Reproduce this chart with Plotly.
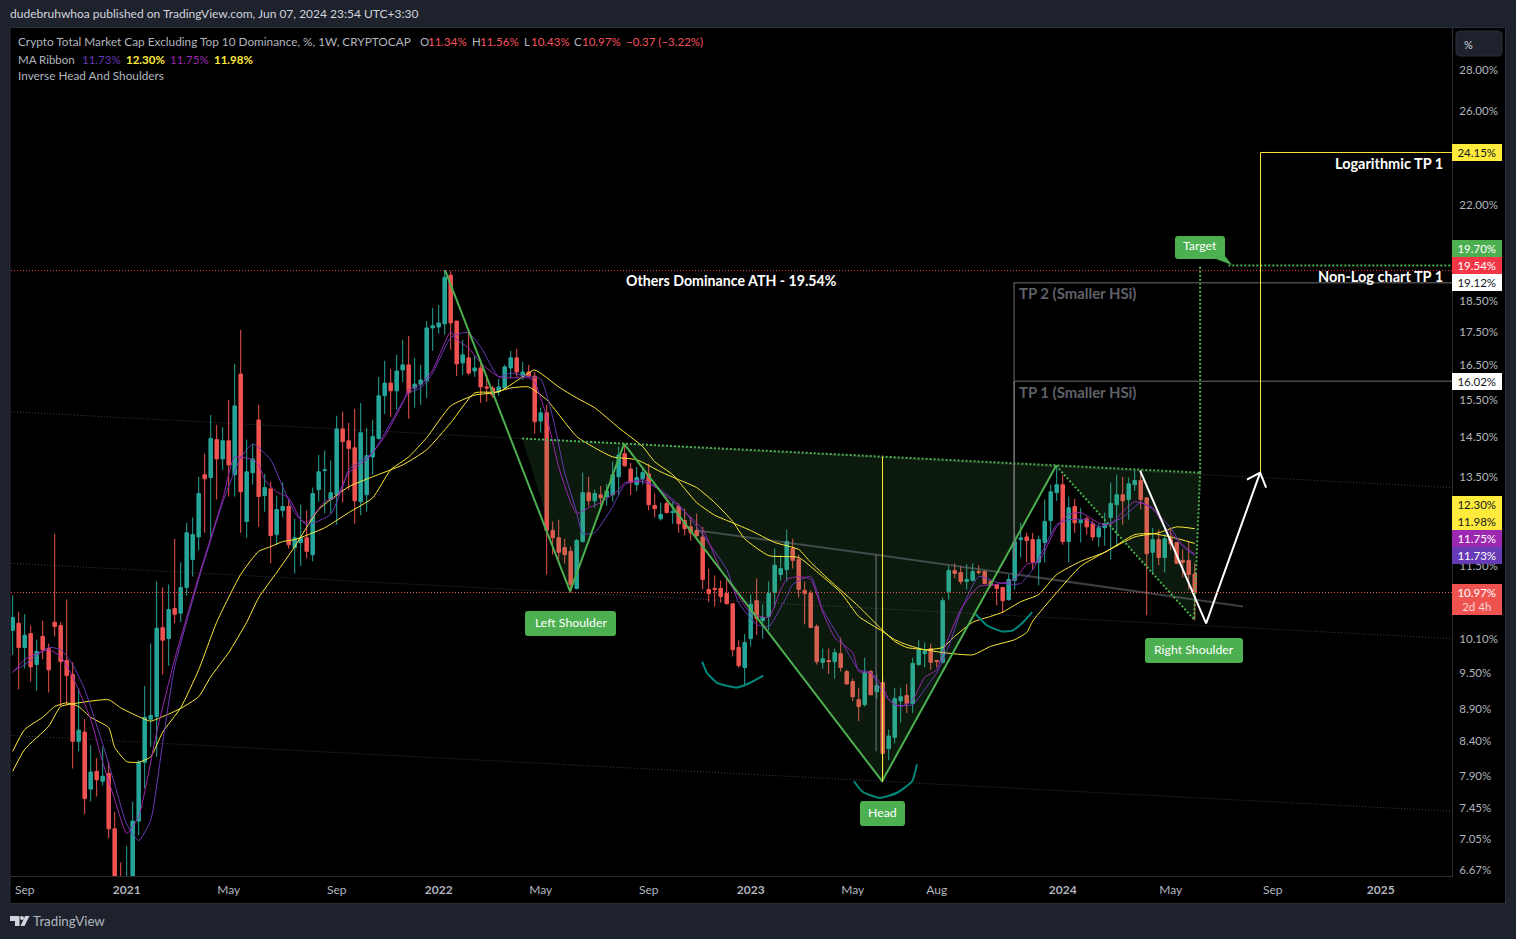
import math
import pandas as pd
import plotly.graph_objects as go

# ---------- candle data (weekly, %) ----------
first_week = "2020-08-24"
opens = [
 10.25,10.38,9.94,10.19,9.64,10.14,9.92,10.40,10.34,9.71,
 9.47,8.40,8.54,7.71,7.96,7.82,7.93,7.18,6.25,6.10,
 6.35,7.28,8.09,8.74,8.78,10.30,10.10,10.66,10.57,11.07,
 11.64,12.12,13.55,13.48,14.43,13.94,14.40,13.55,16.23,12.46,
 13.60,14.95,13.05,13.21,12.17,12.71,12.80,11.89,12.00,12.10,
 11.74,13.19,13.65,12.96,13.07,14.71,14.40,14.22,12.91,13.07,
 13.99,14.46,15.61,15.97,15.75,16.35,16.50,15.83,15.94,16.03,
 17.63,17.66,17.76,19.38,17.85,16.56,16.71,16.32,16.41,15.86,
 15.83,15.72,15.83,16.41,16.71,16.17,16.29,16.17,14.92,15.14,
 12.26,12.10,11.89,11.81,11.05,12.02,13.12,12.93,13.07,13.03,
 13.07,13.50,14.07,13.69,13.31,13.45,13.57,12.82,12.52,12.87,
 12.66,12.80,12.48,12.34,12.26,12.12,11.03,11.05,11.05,10.95,
 10.75,9.94,9.59,10.10,10.81,10.43,10.51,10.97,11.33,11.43,
 11.87,11.64,11.01,10.95,10.32,9.68,9.71,9.69,9.83,9.52,
 9.35,9.05,8.97,9.52,9.18,9.33,8.29,8.46,9.03,9.12,
 8.99,9.64,9.83,9.92,9.71,9.68,10.99,11.41,11.37,11.19,
 11.21,11.39,11.39,11.19,11.13,11.07,10.83,11.21,12.06,12.12,
 12.06,11.58,12.00,12.48,13.12,13.31,12.02,12.80,12.43,12.52,
 12.41,12.12,12.32,12.55,12.84,13.07,12.96,13.31,13.41,13.00,
 11.79,12.06,11.68,12.08,12.00,11.62,11.62,11.34]
highs = [
 10.91,10.60,10.55,10.34,10.08,10.43,10.01,12.19,10.40,10.83,
 9.68,9.22,8.74,8.34,8.15,8.32,8.10,7.40,6.76,6.96,
 7.54,8.12,9.28,10.01,11.19,11.07,11.13,12.08,11.58,12.43,
 12.55,13.50,14.07,15.08,14.82,14.76,15.50,16.53,17.57,14.43,
 14.32,15.36,13.57,13.38,13.05,13.36,12.96,12.52,12.84,12.71,
 13.24,14.04,14.15,13.90,15.06,15.17,14.87,15.25,15.41,14.74,
 14.95,16.15,16.62,16.38,16.80,17.26,17.38,16.71,16.50,17.85,
 18.27,18.37,19.56,19.52,17.85,17.26,17.51,16.77,16.56,16.23,
 15.89,16.09,16.50,16.92,16.98,16.59,16.50,16.29,15.28,15.36,
 12.46,12.50,12.08,11.91,12.08,13.60,13.50,13.19,13.28,13.33,
 13.87,14.25,14.32,13.84,13.74,13.74,13.82,13.10,12.89,12.98,
 12.91,12.87,12.75,12.57,12.64,12.34,11.45,11.31,11.21,11.27,
 10.75,10.07,10.18,10.93,11.25,10.74,11.19,11.87,11.74,12.28,
 12.08,11.74,11.19,11.01,10.36,9.92,9.92,9.92,10.12,9.55,
 9.40,9.25,9.76,9.55,9.47,9.42,8.58,9.24,9.25,9.31,
 9.76,10.07,10.03,10.01,9.71,10.87,11.50,11.56,11.50,11.54,
 11.56,11.52,11.41,11.23,11.13,11.07,11.33,12.17,12.43,12.21,
 12.21,12.15,12.96,13.31,13.74,13.55,13.03,12.98,12.77,12.57,
 12.48,12.41,12.66,13.36,13.55,13.50,13.48,13.67,13.65,13.00,
 12.32,12.28,12.19,12.30,12.00,11.85,12.02,11.56]
lows = [
 9.81,9.22,9.57,9.35,9.20,9.73,9.17,10.14,8.95,8.97,
 8.00,8.25,7.37,7.54,7.61,7.76,7.06,6.05,5.95,5.95,
 6.20,7.10,7.72,8.32,8.17,9.47,9.62,10.38,10.40,10.91,
 11.29,11.83,12.21,12.12,12.96,13.67,13.03,13.03,12.21,12.10,
 13.31,12.34,12.68,11.56,11.95,12.55,11.87,11.35,11.50,11.66,
 11.60,12.91,12.64,12.64,12.39,12.89,13.19,12.41,12.60,12.68,
 13.55,14.43,15.11,15.03,15.22,16.00,14.98,15.28,15.36,15.55,
 16.92,17.45,17.42,16.95,16.17,16.20,16.20,16.15,15.41,15.44,
 15.55,15.61,15.80,16.12,16.15,16.06,16.15,14.58,14.61,11.33,
 11.74,11.56,11.56,10.97,11.03,12.00,12.80,12.77,12.73,12.82,
 12.91,13.07,13.74,13.07,13.16,13.31,12.71,12.55,12.48,12.64,
 12.41,12.21,12.15,12.04,12.06,11.03,10.79,10.70,10.77,10.74,
 9.78,9.59,9.27,9.96,10.16,10.10,10.25,10.68,11.21,11.19,
 11.45,10.87,10.36,10.30,9.64,9.57,9.48,9.40,9.52,9.30,
 9.03,8.71,8.94,9.13,9.07,7.81,8.12,8.37,8.69,8.84,
 8.84,9.62,9.59,9.55,9.59,9.66,10.83,11.25,11.13,11.03,
 11.19,11.33,11.13,11.07,10.72,10.57,10.81,11.03,11.68,11.58,
 11.43,11.11,11.58,12.17,12.93,11.95,11.58,12.21,12.00,12.17,
 12.04,11.91,11.93,11.64,11.91,12.39,12.50,13.16,12.73,10.53,
 11.33,11.52,11.37,11.83,11.54,11.27,11.03,10.43]
closes = [
 10.49,9.94,10.16,9.60,9.87,9.90,9.55,10.32,9.69,9.45,
 8.40,8.57,7.58,7.95,7.84,7.89,7.18,6.25,6.10,6.35,
 7.28,8.09,8.77,8.80,10.29,10.07,10.64,10.55,11.07,12.21,
 12.17,13.10,13.45,14.46,13.94,14.40,13.79,15.33,13.14,13.62,
 13.94,13.03,13.24,12.15,12.73,12.80,11.95,12.10,12.10,11.81,
 13.10,13.62,13.67,13.12,14.71,14.38,14.20,12.93,14.61,14.02,
 14.51,15.61,15.97,15.75,16.32,16.50,15.69,15.94,16.06,17.63,
 17.70,17.79,19.31,17.79,16.53,16.80,16.26,16.41,15.86,15.83,
 15.63,15.86,16.44,16.71,16.29,16.29,16.17,14.90,15.14,12.26,
 12.10,11.79,11.74,11.13,12.04,13.12,12.93,13.10,13.00,13.16,
 13.55,14.04,13.77,13.36,13.48,13.60,12.84,12.75,12.62,12.66,
 12.68,12.41,12.30,12.21,12.15,11.23,10.95,11.03,10.89,10.75,
 9.90,9.62,10.03,10.74,10.47,10.49,10.95,11.52,11.45,12.02,
 11.62,11.03,10.95,10.30,9.69,9.74,9.69,9.85,9.59,9.31,
 9.10,8.94,9.50,9.13,9.28,8.22,8.48,9.07,9.10,8.99,
 9.66,9.90,9.88,9.68,9.69,10.81,11.41,11.35,11.19,11.23,
 11.39,11.37,11.15,11.11,11.05,10.81,11.23,12.02,12.10,12.04,
 11.58,12.06,12.46,13.14,13.31,12.02,12.77,12.43,12.48,12.34,
 12.12,12.32,12.41,12.87,13.07,12.93,13.33,13.41,12.96,11.76,
 12.06,11.68,12.08,11.97,11.56,11.58,11.33,10.97]

purple_weeks = [0,2,6,8,10,13,15,17,19,21,24,27,31,35,37,40,41,42,44,46,48,49,52,54,56,59,62,65,66,68,70,73,74,76,78,81,83,86,87,89,91,93,94,96,98,101,102,105,107,111,115,118,121,123,126,128,129,131,133,135,137,140,141,143,145,146,148,150,152,154,155,158,161,164,167,169,171,174,176,178,181,183,185,187,190,192,195,197]
purple_vals = [9.50,9.73,9.90,9.78,9.43,8.74,8.09,7.57,7.12,7.34,8.54,9.73,11.29,12.96,13.99,13.92,13.79,13.43,13.14,13.00,12.50,12.43,12.91,13.03,13.60,13.92,14.51,15.41,15.78,15.92,16.35,17.51,17.26,17.01,16.56,16.15,16.12,16.12,16.00,15.03,13.74,12.89,12.64,12.77,12.89,13.19,13.36,13.38,13.26,12.80,12.28,11.43,10.89,10.57,10.49,11.03,11.23,11.29,11.23,10.59,10.12,9.85,9.52,9.50,9.27,9.05,8.94,9.05,9.42,9.55,9.85,10.64,11.09,11.13,11.23,11.54,11.60,12.34,12.62,12.66,12.43,12.39,12.68,12.91,12.77,12.34,11.95,11.75]
indigo_weeks = [0,2,6,8,10,12,15,17,19,21,23,25,27,31,35,38,40,41,43,45,47,49,53,55,56,60,63,66,68,70,73,75,76,78,81,83,86,88,90,92,94,95,97,100,102,105,108,111,115,119,121,124,126,129,130,133,135,138,141,143,145,147,150,152,154,156,158,161,164,167,168,170,172,174,176,179,181,183,185,188,190,193,195,197]
indigo_vals = [9.52,9.64,9.94,9.90,9.64,9.22,8.36,7.78,7.24,7.03,7.29,8.38,9.60,11.23,12.89,13.97,14.32,14.22,13.92,13.26,12.66,12.39,12.62,13.26,13.67,14.10,14.87,15.69,15.83,16.26,17.32,17.48,17.48,17.04,16.15,16.26,16.15,16.09,15.03,13.60,12.66,12.19,12.21,12.80,13.31,13.43,13.19,12.84,12.17,11.43,10.77,10.36,10.32,10.89,11.13,11.29,10.64,10.08,9.55,9.50,9.17,8.97,8.97,9.22,9.50,9.96,10.60,11.29,11.17,11.13,11.15,11.43,11.91,12.39,12.50,12.50,12.34,12.43,12.55,12.89,12.73,12.32,11.91,11.73]
yellow_fast_weeks = [0,2,5,7,9,11,13,16,17,19,21,23,25,28,31,34,38,41,43,45,47,52,56,60,63,66,69,73,77,80,83,86,89,94,97,100,104,108,111,114,117,120,122,126,131,134,138,141,145,147,149,152,155,157,160,163,165,168,171,174,178,182,187,190,193,197]
yellow_fast_vals = [8.25,8.58,8.77,8.94,9.00,8.94,8.77,8.61,8.31,8.10,8.09,8.17,8.54,8.92,9.55,10.40,11.33,11.81,11.91,12.02,12.06,12.32,12.66,13.00,13.67,13.99,14.48,15.33,15.63,15.69,15.83,15.86,15.50,14.51,14.22,13.99,13.92,13.62,13.43,13.24,12.89,12.46,12.08,11.72,11.68,11.39,10.97,10.51,10.23,10.08,9.99,9.90,9.94,10.14,10.40,10.51,10.59,10.79,10.93,11.33,11.60,11.79,12.17,12.19,12.12,11.98]
yellow_slow_weeks = [0,2,6,8,11,16,18,21,23,25,28,31,33,36,39,41,44,47,51,56,60,65,69,73,77,81,85,87,91,94,97,101,105,107,110,114,117,120,123,127,131,133,136,141,144,147,149,152,155,160,163,167,169,170,174,178,182,187,191,194,197]
yellow_slow_vals = [7.96,8.28,8.63,8.94,9.00,9.05,8.92,8.78,8.71,8.78,8.91,9.10,9.43,9.85,10.40,10.87,11.37,11.91,12.73,13.26,13.50,13.79,14.17,14.87,15.69,15.72,16.15,16.35,15.86,15.55,15.28,14.74,14.25,13.87,13.55,12.89,12.60,12.43,12.26,12.00,11.85,11.58,11.23,10.70,10.36,10.05,9.94,9.90,9.85,9.81,9.96,10.08,10.21,10.42,10.97,11.50,11.79,12.12,12.21,12.34,12.30]

# ---------- hand drawn objects (week number, %) ----------
channel_weeks = [-0.28, 239.88]
channel_upper = [15.17, 13.24]
channel_middle = [11.56, 10.10]
channel_lower = [8.49, 7.41]
pattern_weeks = [72.05, 92.9, 101.9, 144.9, 173.9]
pattern_vals = [19.56, 10.99, 14.32, 7.82, 13.77]
shoulder_weeks = [173.9, 196.9, 197.9]
shoulder_vals = [13.77, 10.45, 13.60]
neck_weeks = [84.9, 197.9]
neck_vals = [14.46, 13.60]
fill_weeks = [84.9, 92.9, 101.9, 144.9, 173.9, 196.9, 197.9]
fill_vals = [14.46, 10.99, 14.32, 7.82, 13.77, 10.45, 13.60]
target_up_weeks = [197.9, 197.9]
target_up_vals = [13.60, 19.72]
target_line_weeks = [202.6, 239.88]
target_line_vals = [19.72, 19.72]
head_line_weeks = [144.97, 144.97]
head_line_vals = [13.99, 7.82]
grey_drop_weeks = [143.9, 143.9]
grey_drop_vals = [11.74, 8.25]
grey_trend_weeks = [114.05, 143.9, 205.05]
grey_trend_vals = [12.26, 11.74, 10.70]
tp2_frame_weeks = [166.9, 166.9, 239.88]
tp2_frame_vals = [16.02, 19.12, 19.12]
tp1_frame_weeks = [166.9, 239.88]
tp1_frame_vals = [16.02, 16.02]
tp1_drop_weeks = [166.9, 166.9]
tp1_drop_vals = [16.02, 11.64]
log_tp_weeks = [207.97, 207.97, 239.88]
log_tp_vals = [13.55, 24.15, 24.15]
path_weeks = [187.9, 198.9, 207.9]
path_vals = [13.65, 10.38, 13.60]
head_arrow_weeks = [205.7, 207.9, 208.9]
head_arrow_vals = [13.43, 13.60, 13.24]
arc1_weeks = [114.9, 115.7, 117.4, 120.7, 122.9, 125.1]
arc1_vals = [9.69, 9.50, 9.33, 9.25, 9.33, 9.45]
arc2_weeks = [140.2, 141.7, 144.5, 147.4, 149.9, 150.7]
arc2_vals = [7.82, 7.67, 7.59, 7.66, 7.82, 8.06]
arc3_weeks = [160.5, 162.4, 164.9, 166.7, 168.4, 169.9]
arc3_vals = [10.55, 10.34, 10.23, 10.25, 10.40, 10.59]
ath_level = 19.54
last_close = 10.97

# ---------- axis labels ----------
y_ticks = [28, 26, 22, 18.5, 17.5, 16.5, 15.5, 14.5, 13.5, 11.5, 10.1, 9.5, 8.9, 8.4, 7.9, 7.45, 7.05, 6.67]
x_tick_weeks = [2, 19, 36, 54, 71, 88, 106, 123, 140, 154, 175, 193, 210, 228]
x_tick_text = ["Sep", "<b>2021</b>", "May", "Sep", "<b>2022</b>", "May", "Sep", "<b>2023</b>", "May", "Aug", "<b>2024</b>", "May", "Sep", "<b>2025</b>"]

FONT = "Lato"
W, H = 1516, 939
L, R, T, B = 11, 1452, 28, 876
start = pd.Timestamp(first_week)


def wk(values):
    return [(start + pd.Timedelta(weeks=float(v))).isoformat() for v in values]


def px(x):
    return (x - L) / (R - L)


def py(y):
    return (B - y) / (B - T)


fig = go.Figure()
fig.add_trace(go.Candlestick(
    x=wk(range(len(opens))), open=opens, high=highs, low=lows, close=closes,
    increasing=dict(line=dict(color="#26a69a", width=1), fillcolor="#26a69a"),
    decreasing=dict(line=dict(color="#ef5350", width=1), fillcolor="#ef5350"),
    whiskerwidth=0, hoverinfo="skip", showlegend=False))


def line(weeks, vals, color, width=1, dash="solid", shape="linear", **kw):
    fig.add_trace(go.Scatter(x=wk(weeks), y=vals, mode="lines", hoverinfo="skip", showlegend=False,
                             line=dict(color=color, width=width, dash=dash, shape=shape,
                                       **({"smoothing": 0.5} if shape == "spline" else {})), **kw))


CH = "rgba(120,123,134,0.5)"
GREEN = "#4caf50"
DOT1 = "1px,2px"
DOT2 = "2px,2px"
for vals in (channel_upper, channel_middle, channel_lower):
    line(channel_weeks, vals, CH, 1, DOT1)
line(fill_weeks + fill_weeks[:1], fill_vals + fill_vals[:1], "rgba(0,0,0,0)", 0,
     fill="toself", fillcolor="rgba(76,175,80,0.15)")
line(grey_trend_weeks, grey_trend_vals, "rgba(120,123,134,0.5)", 2)
line(grey_drop_weeks, grey_drop_vals, "rgba(120,123,134,0.5)", 2)
line(yellow_slow_weeks, yellow_slow_vals, "#ffeb3b", 1, shape="spline")
line(yellow_fast_weeks, yellow_fast_vals, "#ffeb3b", 1, shape="spline")
line(indigo_weeks, indigo_vals, "#673ab7", 1, shape="spline")
line(purple_weeks, purple_vals, "#9c27b0", 1, shape="spline")
line(pattern_weeks, pattern_vals, GREEN, 2)
line(shoulder_weeks, shoulder_vals, GREEN, 2, DOT2)
line(neck_weeks, neck_vals, GREEN, 2, DOT2)
line(target_up_weeks, target_up_vals, GREEN, 2, DOT2)
line(target_line_weeks, target_line_vals, GREEN, 2, DOT2)
line(head_line_weeks, head_line_vals, "#ffeb3b", 1)
line(tp2_frame_weeks, tp2_frame_vals, "#4a4a4a", 1.5)
line(tp1_frame_weeks, tp1_frame_vals, "#4a4a4a", 1.5)
line(tp1_drop_weeks, tp1_drop_vals, "#7a7a7a", 1.5)
line(log_tp_weeks, log_tp_vals, "#ffeb3b", 1)
line(path_weeks, path_vals, "#ffffff", 2)
line(head_arrow_weeks, head_arrow_vals, "#ffffff", 2)
for w_, v_ in ((arc1_weeks, arc1_vals), (arc2_weeks, arc2_vals), (arc3_weeks, arc3_vals)):
    line(w_, v_, "#00897b", 2, shape="spline")
line(channel_weeks, [ath_level, ath_level], "#f23645", 1, DOT1)
line(channel_weeks, [last_close, last_close], "#ef5350", 1, DOT1)

ann = []


def text(s, x, y, size=11.5, color="#b2b5be", anchor="left"):
    ann.append(dict(text=s, x=px(x), y=py(y), xref="paper", yref="paper", xanchor=anchor, yanchor="middle",
                    showarrow=False, borderpad=0, borderwidth=0, font=dict(size=size, color=color, family=FONT)))


def badge(s, y0, y1, bg, color="#ffffff"):
    ann.append(dict(text=s, x=px(1452.5), y=py(y0), xref="paper", yref="paper", xanchor="left", yanchor="top",
                    width=49.5, height=y1 - y0, bgcolor=bg, borderpad=0, borderwidth=0, showarrow=False,
                    align="center", valign="middle", font=dict(size=11.5, color=color, family=FONT)))


def rounded(x0, x1, y0, y1, r=3):
    pts = [f"M{px(x0 + r):.6f},{py(y0):.6f}", f"L{px(x1 - r):.6f},{py(y0):.6f}",
           f"Q{px(x1):.6f},{py(y0):.6f} {px(x1):.6f},{py(y0 + r):.6f}", f"L{px(x1):.6f},{py(y1 - r):.6f}",
           f"Q{px(x1):.6f},{py(y1):.6f} {px(x1 - r):.6f},{py(y1):.6f}", f"L{px(x0 + r):.6f},{py(y1):.6f}",
           f"Q{px(x0):.6f},{py(y1):.6f} {px(x0):.6f},{py(y1 - r):.6f}", f"L{px(x0):.6f},{py(y0 + r):.6f}",
           f"Q{px(x0):.6f},{py(y0):.6f} {px(x0 + r):.6f},{py(y0):.6f}", "Z"]
    return " ".join(pts)


label_boxes = []


def label(s, x0, x1, y0, y1):
    label_boxes.append(dict(type="path", xref="paper", yref="paper", path=rounded(x0, x1, y0, y1),
                            fillcolor=GREEN, line=dict(width=0), layer="above"))
    text(s, (x0 + x1) / 2, (y0 + y1) / 2 - 1.5, 12.3, "#ffffff", "center")


RED = "#f7525f"
text("dudebruhwhoa published on TradingView.com, Jun 07, 2024 23:54 UTC+3:30", 10, 14, 12, "#d1d4dc")
text("Crypto Total Market Cap Excluding Top 10 Dominance, %, 1W, CRYPTOCAP", 18, 42, 11.8)
for s, x, c in (("O", 420, "#b2b5be"), ("11.34%", 428, RED), ("H", 472, "#b2b5be"), ("11.56%", 480, RED),
                ("L", 524, "#b2b5be"), ("10.43%", 531, RED), ("C", 574, "#b2b5be"), ("10.97%", 582, RED),
                ("\u22120.37 (\u22123.22%)", 626, RED)):
    text(s, x, 42, 11.5, c)
text("MA Ribbon", 18, 59, 11.5)
text("11.73%", 82, 59, 11.5, "#673ab7")
text("<b>12.30%</b>", 126, 59, 11.5, "#ffeb3b")
text("11.75%", 170, 59, 11.5, "#9c27b0")
text("<b>11.98%</b>", 214, 59, 11.5, "#ffeb3b")
text("Inverse Head And Shoulders", 18, 76, 11.8)
text("<b>Others Dominance ATH - 19.54%</b>", 731, 281, 14.2, "#ffffff", "center")
text("<b>Logarithmic TP 1</b>", 1443, 163, 14.5, "#ffffff", "right")
text("<b>Non-Log chart TP 1</b>", 1443, 276, 14.5, "#ffffff", "right")
text("<b>TP 2 (Smaller HSi)</b>", 1019, 293, 14.9, "#5f6168")
text("<b>TP 1 (Smaller HSi)</b>", 1019, 392, 14.9, "#5f6168")
text("%", 1468, 44, 11, "#d1d4dc", "center")
text("TradingView", 33, 921, 13.3, "#b2b5be")
label("Left Shoulder", 525, 616, 611, 636)
label("Head", 860, 905, 801, 826)
label("Right Shoulder", 1145, 1243, 638, 663)
label("Target", 1175, 1225, 236, 259)

badge("24.15%", 144, 161, "#ffeb3b", "#131722")
badge("19.70%", 240, 257, GREEN)
badge("19.54%", 257, 274, "#f23645")
badge("19.12%", 274, 291, "#ffffff", "#131722")
badge("16.02%", 373, 390, "#ffffff", "#131722")
badge("12.30%", 496, 513, "#ffeb3b", "#131722")
badge("11.98%", 513, 530, "#ffeb3b", "#131722")
badge("11.75%", 530, 547, "#9c27b0")
badge("11.73%", 547, 564, "#673ab7")
badge("10.97%<br><span style='color:#fbd5d4'>2d 4h</span>", 584, 615, "#ef5350")


def path(points):
    return "M" + " L".join(f"{px(a):.5f},{py(b):.5f}" for a, b in points) + " Z"


shapes = [
    dict(type="rect", xref="paper", yref="paper", x0=px(10), x1=px(1505.5), y0=py(27.5), y1=py(903.5),
         fillcolor="#000000", line=dict(color="#2a2e39", width=1), layer="below"),
    dict(type="path", xref="paper", yref="paper", path=path([(1222, 252), (1232, 265), (1216, 259)]),
         fillcolor=GREEN, line=dict(width=0), layer="above"),
    dict(type="path", xref="paper", yref="paper", path=rounded(1456, 1502, 31, 56, 4),
         fillcolor="#1e222d", line=dict(color="#2a2e39", width=1), layer="below"),
    dict(type="path", xref="paper", yref="paper",
         path=path([(10, 916), (19.5, 916), (19.5, 926), (15, 926), (15, 921), (10, 921)]),
         fillcolor="#d1d4dc", line=dict(width=0)),
    dict(type="path", xref="paper", yref="paper", path=path([(25, 916), (29.5, 916), (24.5, 926), (20.5, 926)]),
         fillcolor="#d1d4dc", line=dict(width=0)),
    dict(type="circle", xref="paper", yref="paper", x0=px(20), x1=px(24), y0=py(920), y1=py(916),
         fillcolor="#d1d4dc", line=dict(width=0)),
] + label_boxes

fig.update_layout(
    width=W, height=H, margin=dict(l=L, r=W - R, t=T, b=H - B, pad=0),
    paper_bgcolor="#1e222d", plot_bgcolor="#000000", showlegend=False,
    boxgap=0.17, hovermode=False, annotations=ann, shapes=shapes,
    font=dict(family=FONT, size=12, color="#b2b5be"),
    xaxis=dict(type="date", range=wk([channel_weeks[0], channel_weeks[1]]), rangeslider=dict(visible=False),
               tickmode="array", tickvals=wk(x_tick_weeks), ticktext=x_tick_text, showgrid=False, zeroline=False,
               showline=True, linecolor="#2a2e39", ticks="outside", ticklen=3, tickcolor="rgba(0,0,0,0)",
               tickangle=0, tickfont=dict(size=12, color="#b2b5be", family=FONT)),
    yaxis=dict(type="log", side="right", range=[0.81939, 1.47987], tickmode="array", tickvals=y_ticks,
               ticktext=[f"{v:.2f}%" for v in y_ticks], showgrid=False, zeroline=False,
               showline=True, linecolor="#2a2e39", ticks="outside", ticklen=4, tickcolor="rgba(0,0,0,0)",
               tickfont=dict(size=11.5, color="#b2b5be", family=FONT)),
)

fig.write_html("out.html", config=dict(displayModeBar=False),
               post_script="document.body.style.margin='0';document.body.style.overflow='hidden';")
